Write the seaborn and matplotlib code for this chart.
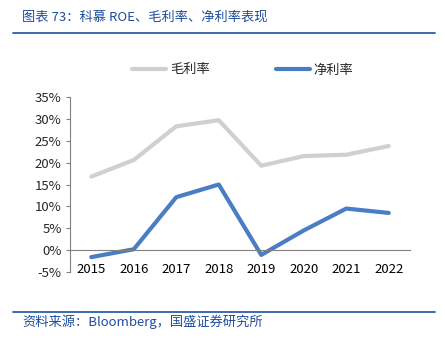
import pandas as pd
import seaborn as sns
import matplotlib.pyplot as plt
from matplotlib.lines import Line2D
from matplotlib.ticker import MultipleLocator, FixedLocator

years = ["2015", "2016", "2017", "2018", "2019", "2020", "2021", "2022"]
gross_margin = [16.8, 20.6, 28.3, 29.7, 19.3, 21.5, 21.8, 23.8]  # 毛利率 %
net_margin = [-1.6, 0.2, 12.1, 15.0, -1.1, 4.5, 9.5, 8.5]  # 净利率 %

sns.set_style("white")
plt.rcParams['font.family'] = ['Noto Sans CJK SC', 'DejaVu Sans']

df = pd.DataFrame({
    "year": years * 2,
    "value": gross_margin + net_margin,
    "series": ["毛利率"] * len(years) + ["净利率"] * len(years),
})

fig = plt.figure(figsize=(4.45, 3.51), dpi=100)
ax = fig.add_axes([70 / 445, 1 - 272 / 351, 340 / 445, 175 / 351])

sns.lineplot(data=df, x="year", y="value", hue="series", ax=ax,
             palette={"毛利率": "#D0D0D0", "净利率": "#4A7EC4"},
             linewidth=3, sort=False, legend=False)

ax.set_xlim(-0.5, len(years) - 0.5)
ax.set_ylim(-5, 35)
ax.yaxis.set_major_locator(MultipleLocator(5))
ax.set_yticklabels([f"{int(v)}%" for v in ax.get_yticks()])
ax.set_xlabel("")
ax.set_ylabel("")

for s in ["top", "right"]:
    ax.spines[s].set_visible(False)
ax.spines["bottom"].set_position(("data", 0))
ax.spines["bottom"].set_color("#808080")
ax.spines["left"].set_color("#808080")
ax.spines["bottom"].set_linewidth(0.8)
ax.spines["left"].set_linewidth(0.8)

ax.xaxis.set_minor_locator(FixedLocator([i + 0.5 for i in range(len(years))]))
ax.tick_params(axis="x", which="major", length=0, pad=9, labelsize=9.5, colors="black")
ax.tick_params(axis="x", which="minor", direction="in", length=3, color="#808080", width=0.8)
ax.tick_params(axis="y", which="major", direction="out", length=3, color="#808080",
               width=0.8, labelsize=9.5, pad=3, left=True)

handles = [Line2D([], [], color="#D0D0D0", lw=3), Line2D([], [], color="#4A7EC4", lw=3)]
fig.legend(handles, ["毛利率", "净利率"], loc="center", bbox_to_anchor=(0.545, 1 - 70 / 351),
           ncol=2, frameon=False, handlelength=2.6, columnspacing=5.0, fontsize=9.5,
           handletextpad=0.3)

title_color = "#1F4E99"
fig.text(22 / 445, 1 - 17 / 351, "图表 73：科慕 ROE、毛利率、净利率表现", color=title_color,
         fontsize=9.5, va="center", ha="left", style="italic")
fig.add_artist(Line2D([13 / 445, 435 / 445], [1 - 33 / 351] * 2, color="#2E5EA8", lw=1.3))
fig.add_artist(Line2D([13 / 445, 435 / 445], [1 - 312 / 351] * 2, color="#2E5EA8", lw=1.3))
fig.text(22 / 445, 1 - 322 / 351, "资料来源：Bloomberg，国盛证券研究所", color=title_color,
         fontsize=9.5, va="center", ha="left", style="italic")

fig.savefig("out.png", dpi=100)
